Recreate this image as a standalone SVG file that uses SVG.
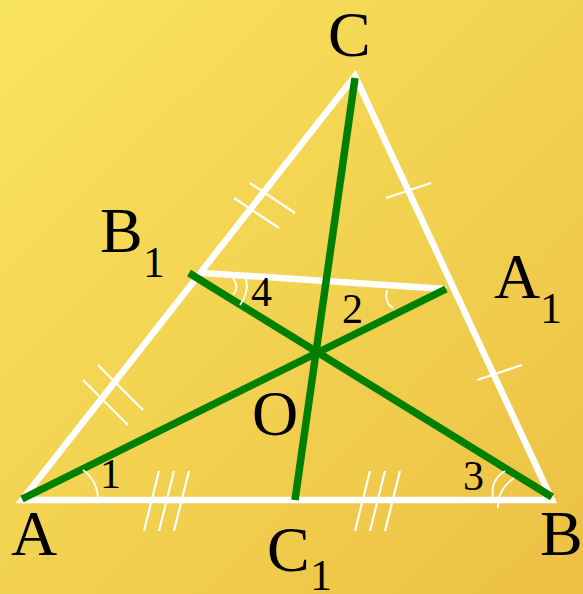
<svg xmlns="http://www.w3.org/2000/svg" width="583" height="594" viewBox="0 0 583 594">
<defs>
<linearGradient id="bg" x1="0" y1="0" x2="583" y2="594" gradientUnits="userSpaceOnUse">
<stop offset="0" stop-color="#F9E45E"/>
<stop offset="1" stop-color="#ECC044"/>
</linearGradient>
<style>
.side{stroke:#fff;stroke-width:6.5;stroke-linecap:round;fill:none}
.mid{stroke:#fff;stroke-width:6.5;stroke-linecap:butt;fill:none}
.med{stroke:#008000;stroke-width:7.5;stroke-linecap:butt;fill:none}
.tick{stroke:#fff;stroke-width:2.2;fill:none}
.arc{stroke:#fff;stroke-width:1.8;fill:none}
.lbl{font-family:"Liberation Serif","Times New Roman",serif;font-size:64px;fill:#000}
.sub{font-family:"Liberation Serif","Times New Roman",serif;font-size:44px;fill:#000}
.num{font-family:"Liberation Serif","Times New Roman",serif;font-size:42px;fill:#000}
</style>
</defs>
<rect width="583" height="594" fill="url(#bg)"/>
<g id="triangle">
<path class="side" d="M22,500 L355,76 L552,500 Z"/>
<line class="mid" x1="203" y1="273" x2="446" y2="289"/>
</g>
<g id="ticks">
<line class="tick" x1="250" y1="183" x2="295" y2="213"/>
<line class="tick" x1="234" y1="198" x2="279" y2="228"/>
<line class="tick" x1="98" y1="365" x2="143" y2="410"/>
<line class="tick" x1="83" y1="380" x2="128" y2="425"/>
<line class="tick" x1="386" y1="198" x2="431" y2="183"/>
<line class="tick" x1="477" y1="380" x2="522" y2="365"/>
<line class="tick" x1="159" y1="471" x2="144" y2="531"/>
<line class="tick" x1="174" y1="471" x2="159" y2="531"/>
<line class="tick" x1="189" y1="471" x2="174" y2="531"/>
<line class="tick" x1="370" y1="471" x2="355" y2="531"/>
<line class="tick" x1="385" y1="471" x2="370" y2="531"/>
<line class="tick" x1="400" y1="471" x2="385" y2="531"/>
</g>
<g id="connectors">
<line class="med" x1="355" y1="78" x2="295" y2="500"/>
<line class="med" x1="22" y1="499" x2="446" y2="289"/>
<line class="med" x1="552" y1="497" x2="189" y2="273"/>
</g>
<g id="angles">
<path class="arc" d="M83,470 Q97,480 98,498"/>
<path class="arc" d="M233,278 Q240,287 233,295"/>
<path class="arc" d="M243,273 Q252,288 240,305"/>
<path class="arc" d="M387,290 Q384,303 393,308"/>
<path class="arc" d="M505,471 Q490,480 493,498"/>
<path class="arc" d="M514,478 Q497,490 498,508"/>
</g>
<g id="label-C"><text class="lbl" x="328" y="56">C</text></g>
<g id="label-B1"><text class="lbl" x="100" y="252">B</text><text class="sub" x="143" y="277">1</text></g>
<g id="label-A1"><text class="lbl" x="494" y="298">A</text><text class="sub" x="540" y="323">1</text></g>
<g id="label-O"><text class="lbl" x="252" y="435">O</text></g>
<g id="label-A"><text class="lbl" x="11" y="555">A</text></g>
<g id="label-B"><text class="lbl" x="540" y="555">B</text></g>
<g id="label-C1"><text class="lbl" x="267" y="571">C</text><text class="sub" x="310" y="590">1</text></g>
<g id="numbers">
<text class="num" x="100" y="488">1</text>
<text class="num" x="342" y="323">2</text>
<text class="num" x="463" y="490">3</text>
<text class="num" x="251" y="306">4</text>
</g>
</svg>
